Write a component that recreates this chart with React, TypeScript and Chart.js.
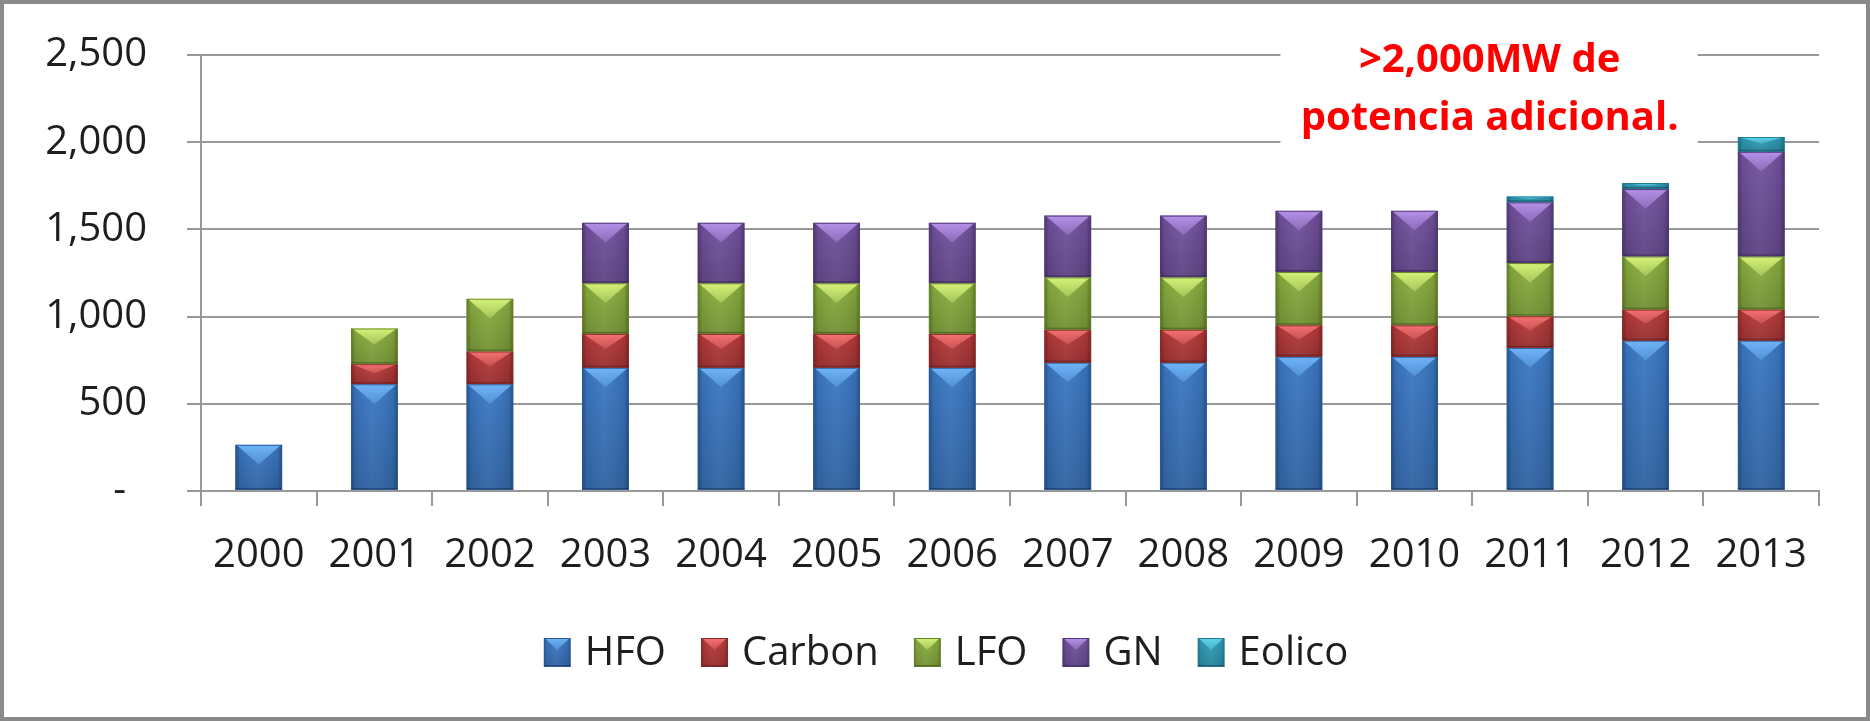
import React, { useEffect, useRef } from 'react';
import { Chart, registerables } from 'chart.js';

Chart.register(...registerables);

const years = ['2000', '2001', '2002', '2003', '2004', '2005', '2006', '2007', '2008', '2009', '2010', '2011', '2012', '2013'];
const seriesNames = ['HFO', 'Carbon', 'LFO', 'GN', 'Eolico'];
const hfo = [265, 612, 612, 707, 707, 707, 707, 736, 736, 770, 770, 821, 862, 862];
const carbon = [0, 115, 188, 194, 194, 194, 194, 189, 189, 180, 180, 181, 178, 178];
const lfo = [0, 205, 303, 290, 290, 290, 290, 300, 300, 306, 306, 305, 305, 305];
const gn = [0, 0, 0, 347, 347, 347, 347, 354, 354, 351, 351, 348, 386, 600];
const eolico = [0, 0, 0, 0, 0, 0, 0, 0, 0, 0, 0, 34, 35, 85];
const yTickValues = [0, 500, 1000, 1500, 2000, 2500];
const annotationLines = ['>2,000MW de', 'potencia adicional.'];

const bodyColors = ['#3b78c4', '#b93a3b', '#8bb040', '#72529f', '#2f9fba'];
const edgeColors = ['#2a5b98', '#8c2a2b', '#65822c', '#523a78', '#217a8f'];
const lightColors = ['114,184,251', '247,116,116', '217,245,124', '185,148,236', '98,214,239'];

const FONT = "'Open Sans', sans-serif";
const TEXT_COLOR = '#1e1e1e';

function drawBevelBox(ctx: any, l: number, top: number, width: number, h: number, di: number, triDepth: number) {
  const r = l + width;
  const x = l + width / 2;
  const bottom = top + h;
  ctx.save();
  ctx.beginPath();
  ctx.rect(l, top, width, h);
  ctx.clip();
  ctx.fillStyle = bodyColors[di];
  ctx.fillRect(l, top, width, h);
  const g = ctx.createLinearGradient(l, 0, r, 0);
  g.addColorStop(0, 'rgba(0,0,0,0.30)');
  g.addColorStop(0.1, 'rgba(0,0,0,0.06)');
  g.addColorStop(0.45, 'rgba(255,255,255,0.05)');
  g.addColorStop(0.9, 'rgba(0,0,0,0.08)');
  g.addColorStop(1, 'rgba(0,0,0,0.32)');
  ctx.fillStyle = g;
  ctx.fillRect(l, top, width, h);
  const gv = ctx.createLinearGradient(0, top, 0, bottom);
  gv.addColorStop(0, 'rgba(0,0,0,0)');
  gv.addColorStop(1, 'rgba(0,0,0,0.16)');
  ctx.fillStyle = gv;
  ctx.fillRect(l, top, width, h);
  const d = Math.min(h * 0.45, triDepth);
  const lc = lightColors[di];
  const gt = ctx.createLinearGradient(0, top, 0, top + d);
  gt.addColorStop(0, `rgba(${lc},0.95)`);
  gt.addColorStop(1, `rgba(${lc},0.35)`);
  ctx.fillStyle = gt;
  ctx.beginPath();
  ctx.moveTo(l + 1, top);
  ctx.lineTo(r - 1, top);
  ctx.lineTo(x, top + d);
  ctx.closePath();
  ctx.fill();
  ctx.fillStyle = 'rgba(0,0,0,0.28)';
  ctx.fillRect(l, bottom - 2, width, 2);
  ctx.strokeStyle = edgeColors[di];
  ctx.lineWidth = 1;
  ctx.strokeRect(l + 0.5, top + 0.5, width - 1, h - 1);
  ctx.restore();
}

const frame = {
  id: 'frame',
  beforeDraw(chart: any) {
    const { ctx, width, height } = chart;
    ctx.save();
    ctx.fillStyle = '#ffffff';
    ctx.fillRect(0, 0, width, height);
    ctx.restore();
  },
  afterDraw(chart: any) {
    const { ctx, width, height } = chart;
    ctx.save();
    ctx.strokeStyle = '#8a8a8a';
    ctx.lineWidth = 4;
    ctx.strokeRect(2, 2, width - 4, height - 4);
    ctx.restore();
  },
};

const bevel = {
  id: 'bevel',
  afterDatasetsDraw(chart: any) {
    const ctx = chart.ctx;
    chart.data.datasets.forEach((_ds: any, di: number) => {
      const meta = chart.getDatasetMeta(di);
      if (meta.hidden) return;
      meta.data.forEach((el: any) => {
        const { x, y, base, width } = el.getProps(['x', 'y', 'base', 'width'], true);
        const top = Math.min(y, base);
        const h = Math.max(y, base) - top;
        if (h < 0.5) return;
        drawBevelBox(ctx, x - width / 2, top, width, h, di, width * 0.42);
      });
    });
  },
};

const customLegend = {
  id: 'customLegend',
  afterDraw(chart: any) {
    const ctx = chart.ctx;
    const boxW = 27;
    const boxH = 29;
    const gap = 14;
    const spacing = 35;
    ctx.save();
    ctx.font = `40px ${FONT}`;
    const items = chart.data.datasets.map((ds: any, i: number) => ({
      text: ds.label as string,
      w: ctx.measureText(ds.label).width,
      i,
    }));
    const total = items.reduce((s: number, it: any) => s + boxW + gap + it.w, 0) + spacing * (items.length - 1);
    let x = chart.width / 2 + 11 - total / 2;
    const baseline = chart.height - 56;
    const boxTop = baseline - 27;
    ctx.textAlign = 'left';
    ctx.textBaseline = 'alphabetic';
    items.forEach((it: any) => {
      drawBevelBox(ctx, x, boxTop, boxW, boxH, it.i, 12);
      ctx.fillStyle = TEXT_COLOR;
      ctx.font = `40px ${FONT}`;
      ctx.fillText(it.text, x + boxW + gap, baseline);
      x += boxW + gap + it.w + spacing;
    });
    ctx.restore();
  },
};

const annotation = {
  id: 'annotation',
  beforeDatasetsDraw(chart: any) {
    const xs = chart.scales.x;
    const ys = chart.scales.y;
    const left = xs.getPixelForValue(8.84);
    const right = xs.getPixelForValue(12.45);
    const top = ys.getPixelForValue(2620);
    const bottom = ys.getPixelForValue(1967);
    const ctx = chart.ctx;
    ctx.save();
    ctx.fillStyle = '#ffffff';
    ctx.fillRect(left, top, right - left, bottom - top);
    ctx.restore();
  },
  afterDatasetsDraw(chart: any) {
    const xs = chart.scales.x;
    const ys = chart.scales.y;
    const cx = xs.getPixelForValue(10.65);
    const ctx = chart.ctx;
    ctx.save();
    ctx.fillStyle = '#ff0000';
    ctx.font = `bold 40px ${FONT}`;
    ctx.textAlign = 'center';
    ctx.textBaseline = 'alphabetic';
    ctx.fillText(annotationLines[0], cx, ys.getPixelForValue(2403));
    ctx.fillText(annotationLines[1], cx, ys.getPixelForValue(2070));
    ctx.restore();
  },
};

export default function App() {
  const canvasRef = useRef<HTMLCanvasElement | null>(null);

  useEffect(() => {
    let chart: Chart | null = null;
    let cancelled = false;
    const build = () => {
      if (cancelled || !canvasRef.current) return;
      const series = [hfo, carbon, lfo, gn, eolico];
      chart = new Chart(canvasRef.current, {
        type: 'bar',
        data: {
          labels: years,
          datasets: series.map((vals, i) => ({
            label: seriesNames[i],
            data: vals,
            backgroundColor: bodyColors[i],
            borderColor: edgeColors[i],
            borderWidth: 0,
            barPercentage: 0.405,
            categoryPercentage: 1,
          })),
        },
        options: {
          responsive: false,
          animation: false,
          layout: { padding: { left: 0, right: 51, top: 55, bottom: 130 } },
          plugins: {
            tooltip: { enabled: false },
            legend: { display: false },
          },
          scales: {
            x: {
              stacked: true,
              afterFit: (scale: any) => {
                scale.height = 100;
              },
              grid: { offset: true, drawOnChartArea: false, drawTicks: true, tickLength: 15, color: '#999999', lineWidth: 2 },
              border: { display: true, color: '#999999', width: 2 },
              ticks: { color: TEXT_COLOR, font: { size: 40, family: FONT }, padding: 26, maxRotation: 0, autoSkip: false },
            },
            y: {
              stacked: true,
              min: 0,
              max: 2500,
              afterFit: (scale: any) => {
                scale.width = 201;
                scale.paddingTop = 10;
                scale.paddingBottom = 10;
              },
              afterBuildTicks: (scale: any) => {
                scale.ticks = yTickValues.map((v) => ({ value: v }));
              },
              grid: { color: '#999999', lineWidth: 2, tickLength: 14, drawTicks: true },
              border: { display: true, color: '#999999', width: 2 },
              ticks: {
                color: TEXT_COLOR,
                font: { size: 40, family: FONT },
                padding: 40,
                callback: (v: any) => (Number(v) === 0 ? '-  ' : Number(v).toLocaleString('en-US')),
              },
            },
          },
        },
        plugins: [frame, annotation, bevel, customLegend],
      });
    };
    if ((document as any).fonts && (document as any).fonts.load) {
      Promise.all([
        (document as any).fonts.load(`40px 'Open Sans'`),
        (document as any).fonts.load(`bold 40px 'Open Sans'`),
      ]).then(build, build);
    } else {
      build();
    }
    return () => {
      cancelled = true;
      if (chart) chart.destroy();
    };
  }, []);

  return (
    <div style={{ position: 'absolute', left: 0, top: 0, width: 1870, height: 721 }}>
      <canvas ref={canvasRef} width={1870} height={721} style={{ display: 'block' }} />
    </div>
  );
}
